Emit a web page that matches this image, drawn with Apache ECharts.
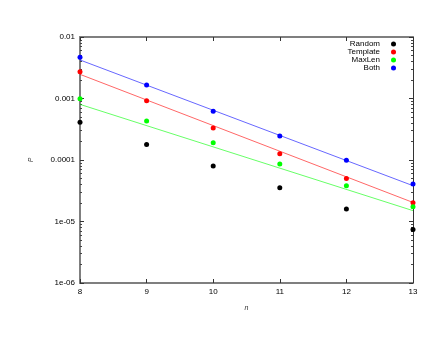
<!DOCTYPE html>
<html>
<head>
<meta charset="utf-8">
<script src="https://cdn.jsdelivr.net/npm/echarts@6/dist/echarts.min.js"></script>
<style>
html, body { margin: 0; padding: 0; background: #fff; }
#chart { width: 440px; height: 340px; }
</style>
</head>
<body>
<div id="chart"></div>
<script>
// n values and measured P per method
var nValues = [8, 9, 10, 11, 12, 13];
var randomP = [0.00041, 0.000178, 0.00008, 0.0000355, 0.000016, 0.0000074];
var templateP = [0.00273, 0.00092, 0.00033, 0.000126, 0.00005, 0.0000202];
var maxLenP = [0.00099, 0.00043, 0.00019, 0.000086, 0.0000382, 0.0000174];
var bothP = [0.0047, 0.00166, 0.00062, 0.000245, 0.0000988, 0.0000407];

// fitted lines, value at n=8 and n=13
var fitN = [8, 13];
var fitTemplate = [0.00247, 0.0000204];
var fitMaxLen = [0.000803, 0.000015];
var fitBoth = [0.00423, 0.0000382];

var yTickLabels = ['1e-06', '1e-05', '0.0001', '0.001', '0.01'];

var names = ['Random', 'Template', 'MaxLen', 'Both'];
var colors = ['#000000', '#ff0000', '#00ff00', '#0000ff'];

function pairs(xs, ys) {
    return xs.map(function (x, i) { return [x, ys[i]]; });
}

var myChart = echarts.init(document.getElementById('chart'));

var font = 'Liberation Sans';
var axisGrey = '#7f7f7f';

var series = [];
[randomP, templateP, maxLenP, bothP].forEach(function (d, i) {
    series.push({
        name: names[i],
        type: 'scatter',
        symbol: 'circle',
        symbolSize: 5,
        itemStyle: { color: colors[i], opacity: 1 },
        data: pairs(nValues, d),
        z: 3
    });
});
[[fitTemplate, 1], [fitMaxLen, 2], [fitBoth, 3]].forEach(function (f) {
    series.push({
        type: 'line',
        showSymbol: false,
        silent: true,
        lineStyle: { color: colors[f[1]], width: 1, opacity: 0.6 },
        data: pairs(fitN, f[0]),
        z: 2
    });
});

var option = {
    animation: false,
    grid: { left: 80, right: 27, top: 37, bottom: 57 },
    legend: {
        data: names,
        orient: 'vertical',
        right: 44,
        top: 40,
        align: 'right',
        icon: 'circle',
        itemWidth: 5,
        itemHeight: 5,
        itemGap: 0,
        padding: 0,
        textStyle: { fontFamily: font, fontSize: 8, lineHeight: 8, color: '#000', padding: [0, 6, 0, 0] }
    },
    xAxis: [{
        type: 'value',
        min: 8,
        max: 13,
        interval: 1,
        name: 'n',
        nameLocation: 'middle',
        nameGap: 22,
        nameTextStyle: { fontFamily: font, fontSize: 7, fontStyle: 'italic', color: '#333' },
        axisLine: { lineStyle: { color: axisGrey, width: 2 } },
        axisTick: { inside: true, length: 4, lineStyle: { color: '#333' } },
        axisLabel: { fontFamily: font, fontSize: 8, color: '#000', margin: 5 },
        splitLine: { show: false }
    }, {
        type: 'value',
        position: 'top',
        min: 8,
        max: 13,
        interval: 1,
        axisLine: { lineStyle: { color: axisGrey, width: 2 } },
        axisTick: { inside: true, length: 4, lineStyle: { color: '#333' } },
        axisLabel: { show: false },
        splitLine: { show: false }
    }],
    yAxis: [{
        type: 'log',
        logBase: 10,
        min: 1e-6,
        max: 0.01,
        name: 'P',
        nameLocation: 'middle',
        nameGap: 45,
        nameRotate: 90,
        nameTextStyle: { fontFamily: font, fontSize: 7, fontStyle: 'italic', color: '#333' },
        axisLine: { lineStyle: { color: axisGrey, width: 2 } },
        axisTick: { inside: true, length: 4, lineStyle: { color: '#333' } },
        minorTick: { show: true, splitNumber: 9, length: 2, lineStyle: { color: '#444' } },
        axisLabel: {
            fontFamily: font, fontSize: 8, color: '#000', margin: 5,
            formatter: function (v) {
                var k = Math.round(Math.log10(v)) + 6;
                return yTickLabels[k];
            }
        },
        splitLine: { show: false }
    }, {
        type: 'log',
        logBase: 10,
        min: 1e-6,
        max: 0.01,
        position: 'right',
        axisLine: { lineStyle: { color: '#333', width: 1 } },
        axisTick: { inside: true, length: 4, lineStyle: { color: '#333' } },
        minorTick: { show: true, splitNumber: 9, length: 2, lineStyle: { color: '#444' } },
        axisLabel: { show: false },
        splitLine: { show: false }
    }],
    series: series
};

myChart.setOption(option);
</script>
</body>
</html>
